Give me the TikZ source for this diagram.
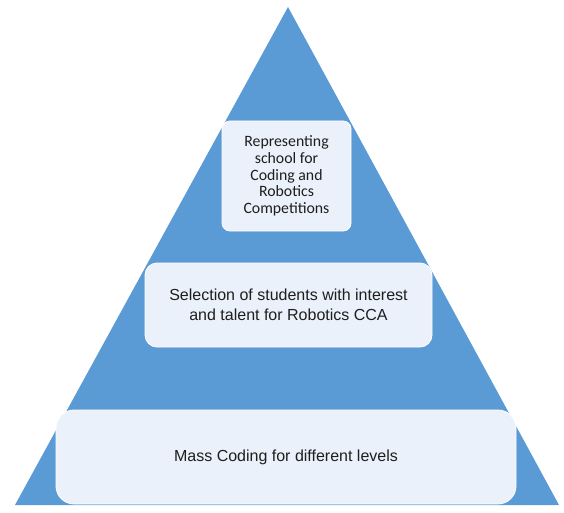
\documentclass[tikz,border=0pt]{standalone}
\usepackage{fontspec}
\setmainfont{Liberation Sans}
\newfontfamily\topfont{Carlito}
\usetikzlibrary{positioning}

\definecolor{pyrblue}{HTML}{5B9BD5}
\definecolor{tierfill}{HTML}{EAF1FA}
\definecolor{tiertext}{HTML}{1E1E1E}

\begin{document}
\begin{tikzpicture}[x=1pt,y=-1pt,
  pyramid/.style={fill=pyrblue},
  tier/.style={draw=white,line width=0.8pt,fill=tierfill,text=tiertext,align=center,inner sep=2pt},
  small/.style={font=\topfont\fontsize{15.8}{16.6}\selectfont},
  big/.style={font=\fontsize{16}{19.5}\selectfont}
]
  \useasboundingbox (0,0) rectangle (564,513);

  \coordinate (apex) at (288,7);
  \coordinate (baseL) at (15,505);
  \coordinate (baseR) at (559,505);
  \fill[pyramid] (apex) -- (baseR) -- (baseL) -- cycle;

  \node[tier,small,rounded corners=8pt,minimum width=129pt,minimum height=110pt] (top) at (286.5,176)
    {Representing\\school for\\Coding and\\Robotics\\Competitions};
  \node[tier,big,rounded corners=12pt,minimum width=287pt,minimum height=84pt] (mid) at (288.5,305)
    {Selection of students with interest\\and talent for Robotics CCA};
  \node[tier,big,rounded corners=18pt,minimum width=460pt,minimum height=94pt] (base) at (286,457)
    {Mass Coding for different levels};
\end{tikzpicture}
\end{document}
